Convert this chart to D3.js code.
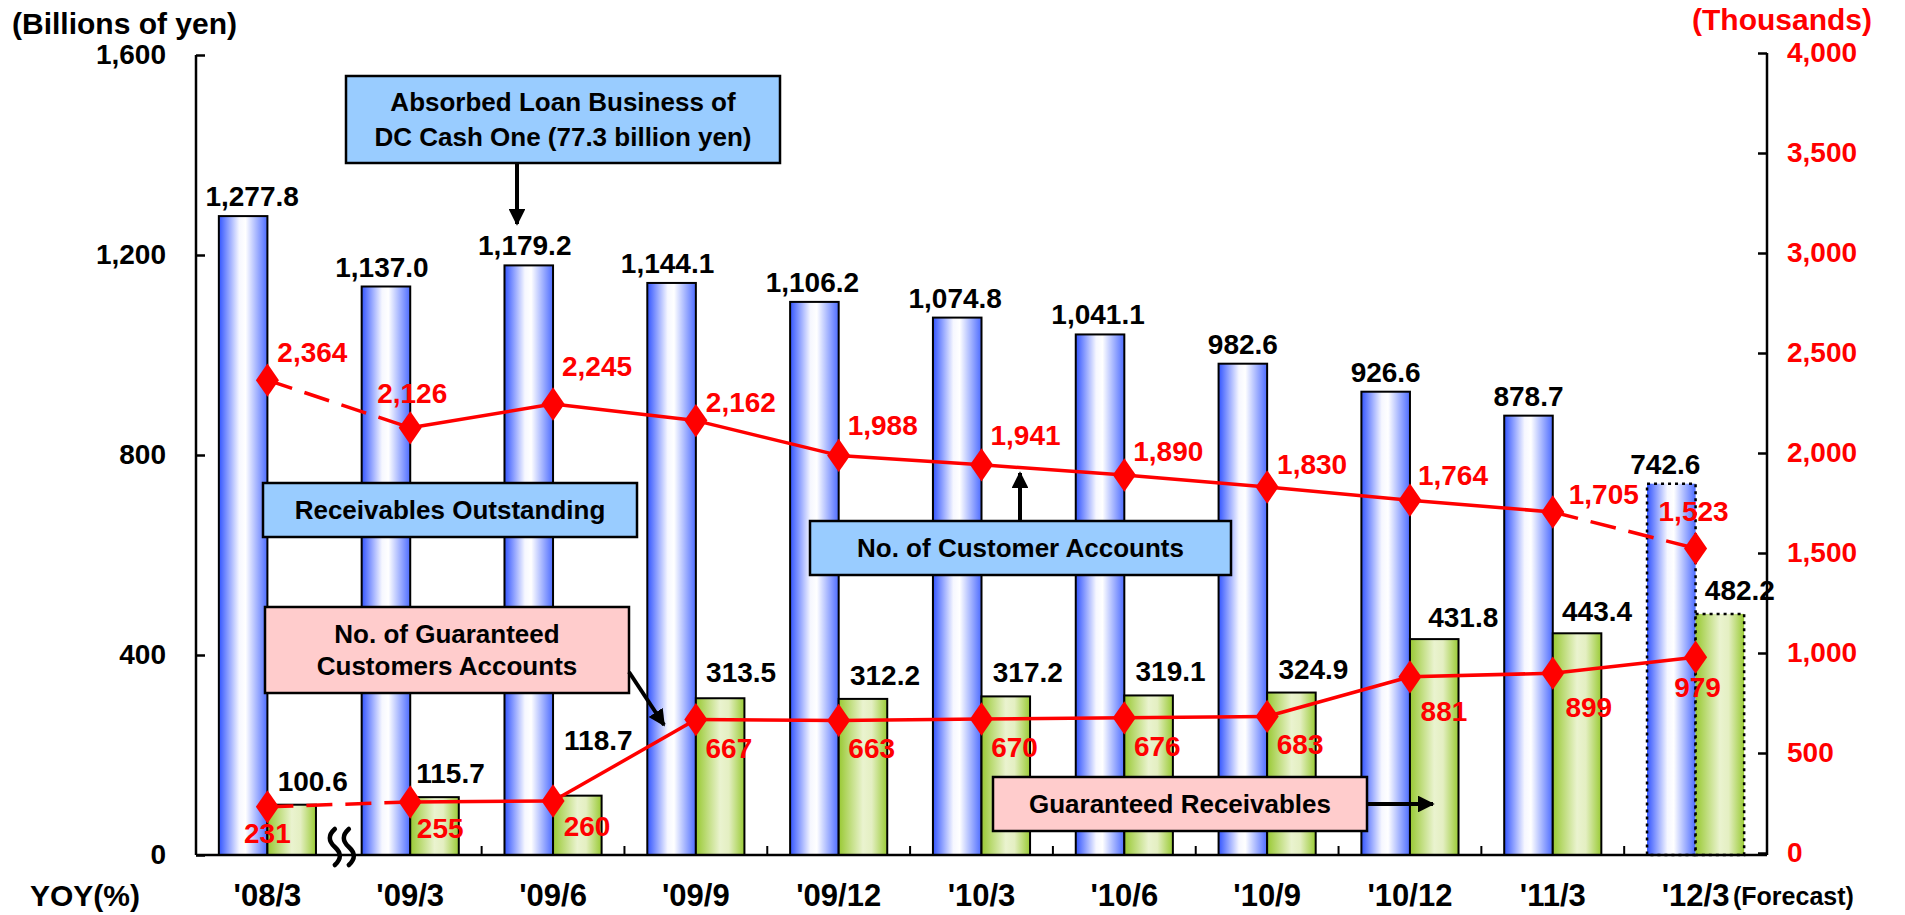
<!DOCTYPE html>
<html>
<head>
<meta charset="utf-8">
<script src="https://cdn.jsdelivr.net/npm/d3@7"></script>
<style>
  html, body { margin: 0; padding: 0; background: #ffffff; }
  svg { display: block; }
  text { font-family: "Liberation Sans", Arial, sans-serif; font-weight: bold; }
</style>
</head>
<body>
<svg id="chart" width="1905" height="915"></svg>
<script>
// Period labels along the bottom axis
const categories = ["'08/3", "'09/3", "'09/6", "'09/9", "'09/12", "'10/3", "'10/6", "'10/9", "'10/12", "'11/3", "'12/3"];

// Billions of yen (left axis)
const receivablesOutstanding = [1277.8, 1137.0, 1179.2, 1144.1, 1106.2, 1074.8, 1041.1, 982.6, 926.6, 878.7, 742.6];
const guaranteedReceivables = [100.6, 115.7, 118.7, 313.5, 312.2, 317.2, 319.1, 324.9, 431.8, 443.4, 482.2];

// Thousands of accounts (right axis)
const customerAccounts = [2364, 2126, 2245, 2162, 1988, 1941, 1890, 1830, 1764, 1705, 1523];
const guaranteedCustomerAccounts = [231, 255, 260, 667, 663, 670, 676, 683, 881, 899, 979];

// Axis ticks
const leftTicks = [0, 400, 800, 1200, 1600];
const rightTicks = [0, 500, 1000, 1500, 2000, 2500, 3000, 3500, 4000];

// Segments drawn dashed (index of segment start)
const customerDashedSegments = [0, 9];
const guaranteedDashedSegments = [0];
// The forecast period (drawn with dotted outlines)
const forecastIndex = 10;

// Label placement relative to the marker: [dx, baseline dy]
const customerLabelOffsets = [[45, -18], [2, -25], [44, -28], [45, -9], [44, -20], [44, -20], [44, -14], [45, -13], [43, -15], [51, -8], [-2, -27]];
const guaranteedAccountLabelOffsets = [[0, 36], [30, 36], [34, 35], [33, 38], [33, 38], [33, 38], [33, 38], [33, 38], [34, 44], [36, 44], [2, 40]];
const guaranteedBarLabelOffsets = [[21, -14], [16, -14], [21, -46], [21, -16], [22, -14], [22, -14], [22, -14], [22, -14], [29, -12], [20, -12], [20, -14]];
const receivablesLabelShift = [9, -4, -4, -4, -2, -2, -2, 0, 0, 0, -6];

const svg = d3.select("#chart");
const plot = { left: 196, right: 1767, top: 55, bottom: 855 };

const defs = svg.append("defs");
const blueGrad = defs.append("linearGradient").attr("id", "blueGrad").attr("x1", "0").attr("x2", "1").attr("y1", "0").attr("y2", "0");
[[0, "#3355ff"], [0.42, "#f6f7ff"], [0.55, "#ffffff"], [1, "#4d6cff"]].forEach(([o, c]) =>
  blueGrad.append("stop").attr("offset", o).attr("stop-color", c));
const greenGrad = defs.append("linearGradient").attr("id", "greenGrad").attr("x1", "0").attr("x2", "1").attr("y1", "0").attr("y2", "0");
[[0, "#99c933"], [0.5, "#eaf3cf"], [0.68, "#e4efc2"], [1, "#9acb35"]].forEach(([o, c]) =>
  greenGrad.append("stop").attr("offset", o).attr("stop-color", c));
defs.append("marker").attr("id", "arrowHead").attr("viewBox", "0 0 10 10")
  .attr("refX", 9).attr("refY", 5).attr("markerWidth", 4.2).attr("markerHeight", 4.2)
  .attr("markerUnits", "strokeWidth").attr("orient", "auto")
  .append("path").attr("d", "M0,0 L10,5 L0,10 Z").attr("fill", "#000");

// Scales
const x0 = d3.scaleBand().domain(categories).range([plot.left, plot.right]).paddingInner(0.32).paddingOuter(0.16);
const x1 = d3.scaleBand().domain(["rec", "gua"]).range([0, x0.bandwidth()]);
const yLeft = d3.scaleLinear().domain([0, 1600]).range([plot.bottom, plot.top]);
const yRight = d3.scaleLinear().domain([0, 4000]).range([plot.bottom - 2, plot.top - 2]);
const cx = c => x0(c) + x0.bandwidth() / 2;

// Bars
const rows = categories.map((c, i) => ({ c, i, rec: receivablesOutstanding[i], gua: guaranteedReceivables[i] }));
const groups = svg.append("g").selectAll("g").data(rows).join("g").attr("transform", d => `translate(${x0(d.c)},0)`);
groups.append("rect")
  .attr("x", x1("rec")).attr("width", x1.bandwidth())
  .attr("y", d => yLeft(d.rec)).attr("height", d => yLeft(0) - yLeft(d.rec))
  .attr("fill", "url(#blueGrad)").attr("stroke", "#000")
  .attr("stroke-width", d => d.i === forecastIndex ? 2.5 : 2)
  .attr("stroke-dasharray", d => d.i === forecastIndex ? "3,4" : null);
groups.append("rect")
  .attr("x", x1("gua")).attr("width", x1.bandwidth())
  .attr("y", d => yLeft(d.gua)).attr("height", d => yLeft(0) - yLeft(d.gua))
  .attr("fill", "url(#greenGrad)").attr("stroke", "#000")
  .attr("stroke-width", d => d.i === forecastIndex ? 2.5 : 2)
  .attr("stroke-dasharray", d => d.i === forecastIndex ? "3,4" : null);

// Axes
const axisG = svg.append("g");
const leftAxis = d3.axisLeft(yLeft).tickValues(leftTicks).tickSize(-9).tickPadding(30).tickFormat(d3.format(","));
const gl = axisG.append("g").attr("transform", `translate(${plot.left},0)`).call(leftAxis);
gl.select(".domain").attr("d", `M0,${plot.top}V${plot.bottom}`).attr("stroke-width", 2.5);
gl.selectAll(".tick line").attr("stroke-width", 2.5);
gl.selectAll(".tick text").attr("font-size", 28).attr("fill", "#000").attr("font-family", "Liberation Sans, Arial").attr("font-weight", "bold");

const rightAxis = d3.axisRight(yRight).tickValues(rightTicks).tickSize(-9).tickPadding(20).tickFormat(d3.format(","));
const gr = axisG.append("g").attr("transform", `translate(${plot.right},0)`).call(rightAxis);
gr.select(".domain").attr("d", `M0,${plot.top - 2}V${plot.bottom}`).attr("stroke-width", 2.5);
gr.selectAll(".tick line").attr("stroke-width", 2.5);
gr.selectAll(".tick text").attr("font-size", 28).attr("fill", "#ff0000").attr("font-family", "Liberation Sans, Arial").attr("font-weight", "bold");

// Baseline with category separators
axisG.append("line").attr("x1", plot.left).attr("x2", plot.right).attr("y1", plot.bottom).attr("y2", plot.bottom)
  .attr("stroke", "#000").attr("stroke-width", 2.5);
const step = x0.step();
const separators = d3.range(2, categories.length).map(k => plot.left + k * step);
axisG.selectAll("line.sep").data(separators).join("line").attr("class", "sep")
  .attr("x1", d => d).attr("x2", d => d).attr("y1", plot.bottom).attr("y2", plot.bottom - 9)
  .attr("stroke", "#000").attr("stroke-width", 2);

// Break mark between the first two periods
const bx = plot.left + step;
[-7, 7].forEach(o => {
  axisG.append("path")
    .attr("d", `M${bx + o + 3},${plot.bottom - 26} q-10,9 0,18 q10,9 0,18`)
    .attr("fill", "none").attr("stroke", "#000").attr("stroke-width", 4.5).attr("stroke-linecap", "round");
});

// Category labels
svg.append("g").selectAll("text").data(categories).join("text")
  .attr("x", d => cx(d)).attr("y", 906).attr("text-anchor", "middle")
  .attr("font-size", 31).attr("fill", "#000").text(d => d);
svg.append("text").attr("x", 1733).attr("y", 905).attr("font-size", 25).attr("fill", "#000").text("(Forecast)");
svg.append("text").attr("x", 30).attr("y", 906).attr("font-size", 30).attr("fill", "#000").text("YOY(%)");

// Axis titles
svg.append("text").attr("x", 12).attr("y", 34).attr("font-size", 30).attr("fill", "#000").text("(Billions of yen)");
svg.append("text").attr("x", 1872).attr("y", 30).attr("text-anchor", "end").attr("font-size", 30).attr("fill", "#ff0000").text("(Thousands)");

// Account lines, drawn segment by segment so some can be dashed
function drawLine(values, dashed) {
  const pts = values.map((v, i) => [cx(categories[i]), yRight(v)]);
  const g = svg.append("g");
  g.selectAll("line").data(d3.range(pts.length - 1)).join("line")
    .attr("x1", i => pts[i][0]).attr("y1", i => pts[i][1])
    .attr("x2", i => pts[i + 1][0]).attr("y2", i => pts[i + 1][1])
    .attr("stroke", "#ff0000").attr("stroke-width", 3.5)
    .attr("stroke-dasharray", i => dashed.includes(i) ? "26,13" : null);
  g.selectAll("path").data(pts).join("path")
    .attr("d", d3.symbol().type(d3.symbolDiamond).size(320))
    .attr("transform", d => `translate(${d[0]},${d[1]}) scale(1.2,1)`)
    .attr("fill", "#ff0000");
  return pts;
}
const custPts = drawLine(customerAccounts, customerDashedSegments);
const guaPts = drawLine(guaranteedCustomerAccounts, guaranteedDashedSegments);

// Value labels
const fmt1 = d3.format(",.1f");
const fmt0 = d3.format(",");
const labels = svg.append("g");
labels.selectAll("text.rec").data(rows).join("text").attr("class", "rec")
  .attr("x", d => x0(d.c) + x1("rec") + x1.bandwidth() / 2 + receivablesLabelShift[d.i]).attr("y", d => yLeft(d.rec) - 10)
  .attr("text-anchor", "middle").attr("font-size", 28).attr("fill", "#000").text(d => fmt1(d.rec));
labels.selectAll("text.gua").data(rows).join("text").attr("class", "gua")
  .attr("x", d => x0(d.c) + x1("gua") + x1.bandwidth() / 2 + guaranteedBarLabelOffsets[d.i][0])
  .attr("y", d => yLeft(d.gua) + guaranteedBarLabelOffsets[d.i][1])
  .attr("text-anchor", "middle").attr("font-size", 28).attr("fill", "#000").text(d => fmt1(d.gua));
labels.selectAll("text.cust").data(customerAccounts).join("text").attr("class", "cust")
  .attr("x", (d, i) => custPts[i][0] + customerLabelOffsets[i][0])
  .attr("y", (d, i) => custPts[i][1] + customerLabelOffsets[i][1])
  .attr("text-anchor", "middle").attr("font-size", 28).attr("fill", "#ff0000").text(d => fmt0(d));
labels.selectAll("text.gacc").data(guaranteedCustomerAccounts).join("text").attr("class", "gacc")
  .attr("x", (d, i) => guaPts[i][0] + guaranteedAccountLabelOffsets[i][0])
  .attr("y", (d, i) => guaPts[i][1] + guaranteedAccountLabelOffsets[i][1])
  .attr("text-anchor", "middle").attr("font-size", 28).attr("fill", "#ff0000").text(d => fmt0(d));

// Callout boxes with arrows
const callouts = svg.append("g");
function callout(x, y, w, h, fill, lines, lineGap) {
  callouts.append("rect").attr("x", x).attr("y", y).attr("width", w).attr("height", h)
    .attr("fill", fill).attr("stroke", "#000").attr("stroke-width", 2.5);
  const midY = y + h / 2;
  lines.forEach((t, k) => {
    callouts.append("text").attr("x", x + w / 2)
      .attr("y", midY + (k - (lines.length - 1) / 2) * lineGap + 9)
      .attr("text-anchor", "middle").attr("font-size", 26).attr("fill", "#000").text(t);
  });
}
function arrow(xa, ya, xb, yb) {
  callouts.append("line").attr("x1", xa).attr("y1", ya).attr("x2", xb).attr("y2", yb)
    .attr("stroke", "#000").attr("stroke-width", 4).attr("marker-end", "url(#arrowHead)");
}
callout(346, 76, 434, 87, "#99ccff", ["Absorbed Loan Business of", "DC Cash One (77.3 billion yen)"], 35);
arrow(517, 163, 517, 224);
callout(263, 483, 374, 54, "#99ccff", ["Receivables Outstanding"], 0);
callout(810, 521, 421, 54, "#99ccff", ["No. of Customer Accounts"], 0);
arrow(1020, 521, 1020, 473);
callout(265, 607, 364, 86, "#ffcccc", ["No. of Guaranteed", "Customers Accounts"], 32);
arrow(629, 672, 664, 725);
callout(993, 777, 374, 54, "#ffcccc", ["Guaranteed Receivables"], 0);
arrow(1367, 804, 1433, 804);
</script>
</body>
</html>
